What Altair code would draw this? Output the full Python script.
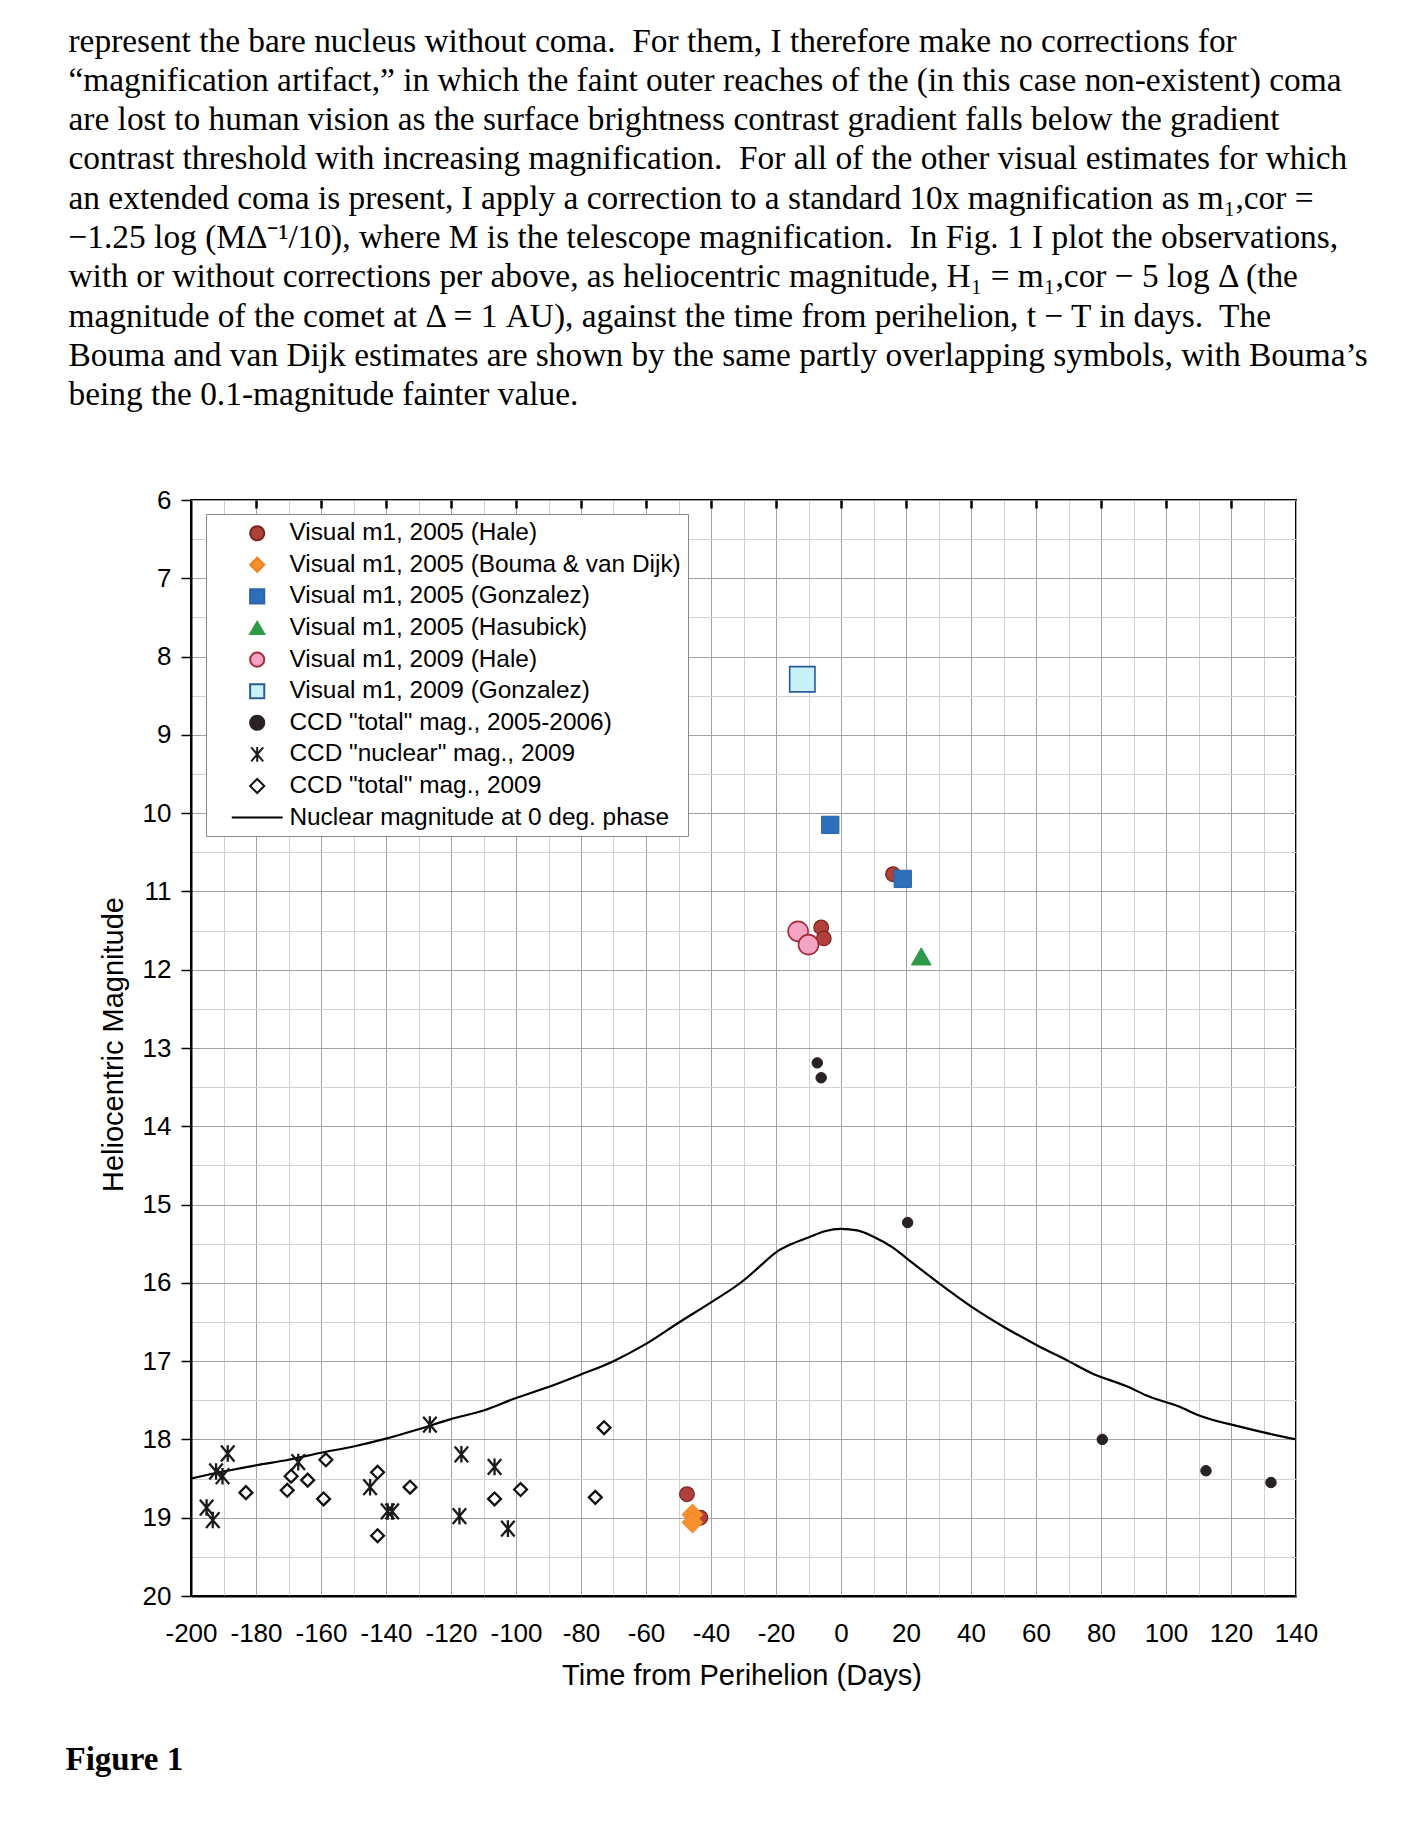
import altair as alt
import pandas as pd

# ---------------- data ----------------
series_names = [
    "Visual m1, 2005 (Hale)",
    "Visual m1, 2005 (Bouma & van Dijk)",
    "Visual m1, 2005 (Gonzalez)",
    "Visual m1, 2005 (Hasubick)",
    "Visual m1, 2009 (Hale)",
    "Visual m1, 2009 (Gonzalez)",
    'CCD "total" mag., 2005-2006)',
    'CCD "nuclear" mag., 2009',
    'CCD "total" mag., 2009',
    "Nuclear magnitude at 0 deg. phase",
]

hale05_day = [-47.4, -43.3, -6.1, -5.3, 16.0]
hale05_mag = [18.70, 19.00, 11.46, 11.60, 10.78]

bouma_day = [-45.7, -45.7]
bouma_mag = [18.96, 19.06]

gonz05_day = [-3.3, 19.0]
gonz05_mag = [10.15, 10.84]

hasu_day = [24.7]
hasu_mag = [11.83]

hale09_day = [-13.2, -10.0]
hale09_mag = [11.51, 11.68]

gonz09_day = [-11.9]
gonz09_mag = [8.29]

ccd0506_day = [-7.3, -6.1, 20.5, 80.4, 112.3, 132.3]
ccd0506_mag = [13.19, 13.38, 15.23, 18.00, 18.40, 18.55]

ccdnuc_day = [-195.2, -193.3, -192.3, -190.3, -188.7, -167.0, -144.9, -139.5,
              -138.1, -126.5, -116.8, -117.4, -106.6, -102.5]
ccdnuc_mag = [18.87, 19.03, 18.41, 18.47, 18.18, 18.29, 18.61, 18.92,
              18.92, 17.81, 18.19, 18.98, 18.35, 19.14]

ccdtot09_day = [-183.1, -170.4, -169.2, -164.1, -159.2, -158.5, -142.6, -142.6,
                -132.6, -106.6, -98.6, -75.6, -72.9]
ccdtot09_mag = [18.68, 18.65, 18.47, 18.52, 18.76, 18.26, 18.42, 19.23,
                18.61, 18.76, 18.64, 18.74, 17.85]

nuc_day = [-200, -190, -180, -170, -160, -150, -140, -130, -120, -110, -100,
           -90, -80, -70, -60, -50, -40, -30, -25, -20, -15, -10, -5, 0, 5, 10,
           16, 20, 30, 40, 50, 60, 70, 77, 89, 94, 104, 110, 123, 130, 140]
nuc_mag = [18.50, 18.41, 18.33, 18.26, 18.17, 18.09, 17.99, 17.87, 17.74, 17.63,
           17.47, 17.33, 17.17, 17.00, 16.78, 16.51, 16.25, 15.97, 15.79, 15.61,
           15.50, 15.42, 15.34, 15.31, 15.33, 15.41, 15.55, 15.68, 16.00, 16.30,
           16.56, 16.79, 17.00, 17.15, 17.34, 17.44, 17.58, 17.69, 17.84, 17.91,
           18.00]

NB2 = "\u00a0 "  # preserved double space
paragraph_lines = [
    "represent the bare nucleus without coma." + NB2 + "For them, I therefore make no corrections for",
    "\u201cmagnification artifact,\u201d in which the faint outer reaches of the (in this case non-existent) coma",
    "are lost to human vision as the surface brightness contrast gradient falls below the gradient",
    "contrast threshold with increasing magnification." + NB2 + "For all of the other visual estimates for which",
    "an extended coma is present, I apply a correction to a standard 10x magnification as m\u2081,cor =",
    "\u22121.25 log (M\u0394\u207b\u00b9/10), where M is the telescope magnification." + NB2 + "In Fig. 1 I plot the observations,",
    "with or without corrections per above, as heliocentric magnitude, H\u2081 = m\u2081,cor \u2212 5 log \u0394 (the",
    "magnitude of the comet at \u0394 = 1 AU), against the time from perihelion, t \u2212 T in days." + NB2 + "The",
    "Bouma and van Dijk estimates are shown by the same partly overlapping symbols, with Bouma\u2019s",
    "being the 0.1-magnitude fainter value.",
]
figure_label = "Figure 1"
x_title = "Time from Perihelion (Days)"
y_title = "Heliocentric Magnitude"

point_sets = [
    (hale05_day, hale05_mag), (bouma_day, bouma_mag), (gonz05_day, gonz05_mag),
    (hasu_day, hasu_mag), (hale09_day, hale09_mag), (gonz09_day, gonz09_mag),
    (ccd0506_day, ccd0506_mag), (ccdnuc_day, ccdnuc_mag), (ccdtot09_day, ccdtot09_mag),
]

# ---------------- styling ----------------
ASTERISK = "M-0.85,-1L0.85,1M-0.85,1L0.85,-1M0,-1.05L0,1.05"
LINE_SYM = "M-3.6,0L3.6,0"

shape_range = ["circle", "diamond", "square", "triangle-up", "circle", "square",
               "circle", ASTERISK, "diamond", LINE_SYM]
fill_range = ["#b0413a", "#f7902e", "#2d6fba", "#2e9a48", "#f3a5c3", "#c9f1fb",
              "#2a2222", "transparent", "white", "transparent"]
stroke_range = ["#7a2420", "#f08020", "#2a64a8", "#2e9a48", "#a8283a", "#2b5b94",
                "#2a2222", "#1a1a1a", "#111111", "black"]
mark_sizes = [215, 440, 300, 390, 400, 640, 110, 250, 165]
mark_sw = [1.2, 1.0, 1.0, 1.0, 1.6, 1.6, 1.0, 2.3, 2.3]

dom = series_names
W, H = 1105, 1096
FONT = "Liberation Sans"

x_scale = alt.Scale(domain=[-200, 140], nice=False, zero=False)
y_scale = alt.Scale(domain=[6, 20], reverse=True, nice=False, zero=False)
shape_scale = alt.Scale(domain=dom, range=shape_range)
fill_scale = alt.Scale(domain=dom, range=fill_range)
stroke_scale = alt.Scale(domain=dom, range=stroke_range)

x_axis = alt.Axis(
    values=list(range(-200, 141, 10)),
    labelExpr="datum.value % 20 === 0 ? '' + datum.value : ''",
    labelFont=FONT, labelFontSize=26, labelColor="black", labelPadding=24,
    labelOverlap=False, labelFlush=False, labelBound=False,
    ticks=False, domainColor="black", domainWidth=2,
    grid=True, gridWidth=1,
    gridColor={"condition": {"test": "datum.value % 20 === 0", "value": "#a8a1a1"},
               "value": "#d6cfcf"},
    title=x_title, titleFont=FONT, titleFontSize=29, titleFontWeight="normal",
    titleColor="black", titleX=W / 2 - 2, titleY=88, titleBaseline="alphabetic",
    titleAlign="center",
)
y_axis = alt.Axis(
    values=[6 + 0.5 * i for i in range(29)],
    labelExpr="datum.value % 1 === 0 ? '' + datum.value : ''",
    labelFont=FONT, labelFontSize=26, labelColor="black", labelPadding=10,
    labelOverlap=False, labelFlush=False, labelBound=False,
    tickSize=10, tickWidth=1.5,
    tickColor={"condition": {"test": "datum.value % 1 !== 0", "value": "transparent"},
               "value": "black"},
    domainColor="black", domainWidth=2,
    grid=True, gridWidth=1,
    gridColor={"condition": {"test": "datum.value % 1 === 0", "value": "#a8a1a1"},
               "value": "#d6cfcf"},
    title=y_title, titleFont=FONT, titleFontSize=29, titleFontWeight="normal",
    titleColor="black", titleX=-69, titleY=544, titleAngle=-90,
    titleAlign="center", titleBaseline="alphabetic",
)
top_axis = alt.Axis(
    orient="top", labels=False, domain=False, grid=False,
    values=list(range(-180, 140, 20)),
    ticks=True, tickSize={"expr": "-8"}, tickWidth=2.5, tickColor="black",
    title=paragraph_lines, titleX=-123, titleY=-449, titleAngle=0,
    titleAlign="left", titleBaseline="alphabetic",
    titleFont="Liberation Serif", titleFontSize=33.4, titleFontWeight="normal",
    titleLineHeight=39.3, titleColor="black",
)
right_axis = alt.Axis(
    orient="right", labels=False, ticks=False, domain=False, grid=False,
    title=figure_label, titleX=-1231, titleY=1269, titleAngle=0,
    titleAlign="left", titleBaseline="alphabetic",
    titleFont="Liberation Serif", titleFontSize=33, titleFontWeight="bold",
    titleColor="black",
)

legend = alt.Legend(title=None)

# nuclear magnitude curve (carries the top/right axes with the page texts)
line_df = pd.DataFrame({"day": nuc_day, "mag": nuc_mag, "series": series_names[-1]})
line = alt.Chart(line_df).mark_line(strokeWidth=2.2, interpolate="monotone").encode(
    x=alt.X("day:Q", scale=x_scale, axis=top_axis),
    y=alt.Y("mag:Q", scale=y_scale, axis=right_axis),
    stroke=alt.Stroke("series:N", scale=stroke_scale, legend=legend),
)

layers = [line]
for i, (name, (ds, ms)) in enumerate(zip(series_names, point_sets)):
    df = pd.DataFrame({"day": ds, "mag": ms, "series": name})
    first = i == 0
    layers.append(
        alt.Chart(df).mark_point(opacity=1, size=mark_sizes[i], strokeWidth=mark_sw[i]).encode(
            x=alt.X("day:Q", scale=x_scale, axis=x_axis if first else None),
            y=alt.Y("mag:Q", scale=y_scale, axis=y_axis if first else None),
            shape=alt.Shape("series:N", scale=shape_scale, legend=legend),
            fill=alt.Fill("series:N", scale=fill_scale, legend=legend),
            stroke=alt.Stroke("series:N", scale=stroke_scale, legend=legend),
        )
    )

chart = (
    alt.layer(*layers)
    .resolve_axis(x="independent", y="independent")
    .properties(
        width=W, height=H,
        autosize=alt.AutoSizeParams(type="none"),
        padding={"left": 183, "top": 492, "right": 114, "bottom": 244},
        background="white",
    )
    .configure_view(stroke="black", strokeWidth=2)
    .configure_legend(
        orient="none", legendX=15, legendY=14,
        fillColor="white", strokeColor="#888", padding=7,
        labelFont=FONT, labelFontSize=24.4, labelColor="black", labelLimit=800,
        labelOffset=20, symbolOffset=32, symbolSize=200, symbolStrokeWidth=2,
        rowPadding=6.6,
    )
)

chart.save("out.html", embed_options={"renderer": "svg", "actions": False})
